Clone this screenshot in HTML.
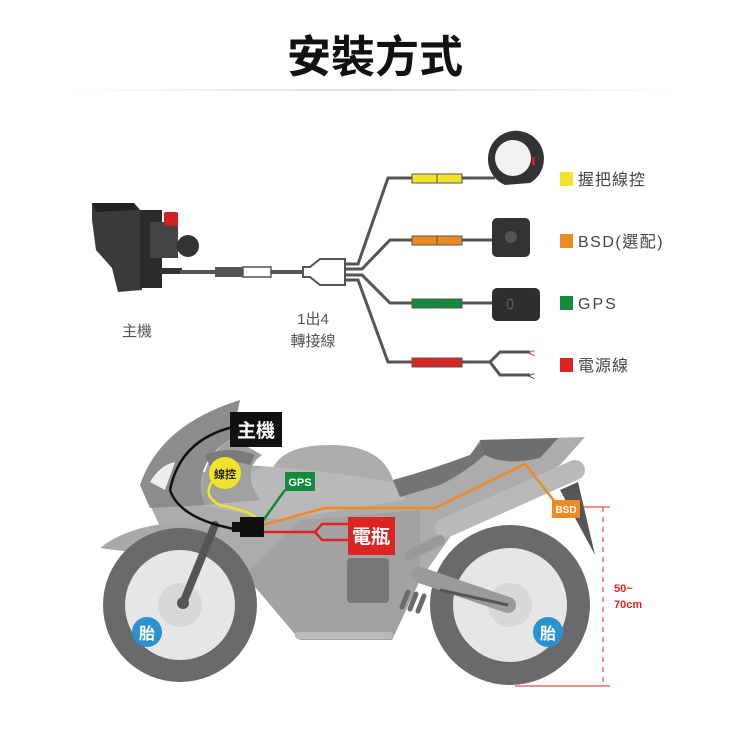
<!DOCTYPE html>
<html><head><meta charset="utf-8"><style>
html,body{margin:0;padding:0;background:#fff;}
svg{display:block;font-family:"Liberation Sans","Noto Sans CJK TC",sans-serif;}
</style></head><body>
<svg width="750" height="750" viewBox="0 0 750 750" xmlns="http://www.w3.org/2000/svg">
<defs>
<linearGradient id="hl" x1="0" x2="1"><stop offset="0" stop-color="#fff"/><stop offset=".5" stop-color="#ddd"/><stop offset="1" stop-color="#fff"/></linearGradient>
</defs>
<text x="375" y="72" font-size="44" font-weight="bold" text-anchor="middle" fill="#111" font-family="'Noto Sans CJK TC',sans-serif">安裝方式</text>
<rect x="70" y="89" width="610" height="2" fill="url(#hl)"/>

<!-- main unit -->
<path d="M92 203 L134 203 L142 212 L142 290 L118 292 L112 268 L96 250 L92 220 Z" fill="#3a3a3a"/>
<path d="M92 203 L134 203 L138 210 L96 212 Z" fill="#222"/>
<rect x="140" y="210" width="22" height="78" fill="#2b2b2b"/>
<rect x="150" y="222" width="28" height="36" fill="#444"/>
<circle cx="188" cy="246" r="11" fill="#333"/>
<rect x="164" y="212" width="14" height="14" fill="#c22" rx="2"/>
<rect x="160" y="268" width="22" height="6" fill="#333"/>
<line x1="180" y1="272" x2="305" y2="272" stroke="#555" stroke-width="4"/>
<rect x="215" y="267" width="28" height="10" fill="#555"/>
<rect x="243" y="267" width="28" height="10" fill="#fff" stroke="#555" stroke-width="1.5"/>
<path d="M303 267 L310 267 L320 259 L345 259 L345 285 L320 285 L310 277 L303 277 Z" fill="#fff" stroke="#555" stroke-width="2"/>
<text x="137" y="336" font-size="15" fill="#555" text-anchor="middle">主機</text>
<text x="313" y="324" font-size="15" fill="#555" text-anchor="middle">1出4</text>
<text x="313" y="346" font-size="15" fill="#555" text-anchor="middle">轉接線</text>

<!-- branches -->
<g stroke="#555" stroke-width="3" fill="none">
<path d="M345 264 L358 264 L388 178 L495 178"/>
<path d="M345 269 L362 269 L390 240 L495 240"/>
<path d="M345 275 L362 275 L390 303 L495 303"/>
<path d="M345 280 L358 280 L388 362 L490 362 L500 352 L530 352"/>
<path d="M490 362 L500 375 L530 375"/>
</g>
<g stroke="#555" stroke-width="1">
<rect x="412" y="174" width="25" height="9" fill="#f2e22a"/><rect x="437" y="174" width="25" height="9" fill="#f2e22a"/>
<rect x="412" y="236" width="25" height="9" fill="#ef8a23"/><rect x="437" y="236" width="25" height="9" fill="#ef8a23"/>
<rect x="412" y="299" width="25" height="9" fill="#138a3c"/><rect x="437" y="299" width="25" height="9" fill="#138a3c"/>
<rect x="412" y="358" width="25" height="9" fill="#dd2424"/><rect x="437" y="358" width="25" height="9" fill="#dd2424"/>
</g>
<text x="528" y="357" font-size="12" fill="#d22">&lt;</text>
<text x="528" y="380" font-size="12" fill="#333">&lt;</text>
<!-- devices -->
<path d="M488 160 A28 28 0 1 1 530 183 L505 185 A28 28 0 0 1 488 160 Z" fill="#333"/>
<circle cx="513" cy="158" r="18" fill="#f2f2f2"/>
<rect x="532" y="157" width="3" height="8" fill="#c22"/>
<rect x="492" y="218" width="38" height="39" rx="5" fill="#333"/>
<circle cx="511" cy="237" r="6" fill="#555"/>
<rect x="492" y="288" width="48" height="33" rx="5" fill="#2e2e2e"/>
<ellipse cx="510" cy="304" rx="3" ry="5" fill="none" stroke="#666"/>
<!-- legend -->
<rect x="560" y="172" width="13" height="14" fill="#f2e22a"/>
<text x="578" y="185" font-size="16" fill="#444" letter-spacing="1">握把線控</text>
<rect x="560" y="234" width="13" height="14" fill="#ef8a23"/>
<text x="578" y="247" font-size="16" fill="#444" letter-spacing="1.5">BSD(選配)</text>
<rect x="560" y="296" width="13" height="14" fill="#138a3c"/>
<text x="578" y="309" font-size="16" fill="#444" letter-spacing="2">GPS</text>
<rect x="560" y="358" width="13" height="14" fill="#dd2424"/>
<text x="578" y="371" font-size="16" fill="#444" letter-spacing="1">電源線</text>

<!-- motorcycle -->
<!-- main body -->
<path d="M150 505 Q190 462 262 466 L272 470 Q282 445 330 445 Q382 445 393 480 Q430 470 470 455 L480 440 L585 437 L560 465 L455 530 L420 580 L392 640 L300 640 L245 575 L170 548 Z" fill="#acacac"/>
<path d="M262 466 Q320 470 392 482 L405 500 L280 520 L200 505 Z" fill="#b9b9b9"/>
<path d="M393 480 Q430 470 470 455 L482 440 L492 448 Q470 470 440 485 L400 497 Z" fill="#747474"/>
<path d="M480 440 L558 438 L540 458 Q505 466 485 455 Z" fill="#6e6e6e"/>
<path d="M245 575 L300 520 L420 510 L420 580 L392 640 L300 640 Z" fill="#a2a2a2"/>
<line x1="445" y1="528" x2="575" y2="470" stroke="#b9b9b9" stroke-width="20" stroke-linecap="round"/>
<line x1="410" y1="555" x2="440" y2="540" stroke="#999" stroke-width="10" stroke-linecap="round"/>
<path d="M560 490 L578 482 L595 555 Z" fill="#555"/>
<!-- fairing -->
<path d="M240 400 Q160 425 140 485 L150 508 L205 505 Q190 465 232 438 Z" fill="#8c8c8c"/>
<path d="M232 438 Q195 462 205 505 L260 500 Q240 470 262 455 Z" fill="#a0a0a0"/>
<path d="M150 482 Q160 465 175 462 L165 490 Z" fill="#eee"/>
<path d="M205 455 Q230 445 255 455 L250 465 Q230 458 210 466 Z" fill="#7a7a7a"/>
<!-- front fender -->
<path d="M100 548 Q135 520 205 522 L222 545 L130 552 Z" fill="#a9a9a9"/>
<rect x="347" y="558" width="42" height="45" rx="4" fill="#777"/>
<g stroke="#6a6a6a" stroke-width="5" stroke-linecap="round">
<line x1="402" y1="607" x2="408" y2="592"/><line x1="410" y1="609" x2="416" y2="594"/><line x1="418" y1="611" x2="424" y2="596"/>
</g>
<rect x="295" y="632" width="98" height="7" rx="3" fill="#bbb"/>
<!-- wheels -->
<circle cx="180" cy="605" r="77" fill="#6a6a6a"/>
<circle cx="180" cy="605" r="55" fill="#e6e6e6"/>
<circle cx="180" cy="605" r="22" fill="#d8d8d8"/>
<circle cx="510" cy="605" r="80" fill="#6a6a6a"/>
<circle cx="510" cy="605" r="57" fill="#e6e6e6"/>
<circle cx="510" cy="605" r="22" fill="#d8d8d8"/>
<line x1="183" y1="603" x2="215" y2="525" stroke="#555" stroke-width="8" stroke-linecap="round"/>
<circle cx="183" cy="603" r="6" fill="#555"/>
<line x1="420" y1="575" x2="508" y2="605" stroke="#9a9a9a" stroke-width="16" stroke-linecap="round"/>
<line x1="440" y1="590" x2="508" y2="605" stroke="#555" stroke-width="3"/>
<!-- wires -->
<path d="M233 427 Q180 440 170 490 Q180 520 240 530" stroke="#111" stroke-width="2.5" fill="none"/>
<path d="M215 478 Q200 495 220 505 Q255 512 265 525" stroke="#f2e22a" stroke-width="2.5" fill="none"/>
<path d="M262 522 L285 490" stroke="#138a3c" stroke-width="2.5" fill="none"/>
<path d="M262 525 L325 508 L435 508 L525 464 L555 502" stroke="#ef8a23" stroke-width="2.5" fill="none"/>
<path d="M262 532 L315 532 L322 524 L348 524 M315 532 L322 540 L348 540" stroke="#dd2424" stroke-width="2.5" fill="none"/>
<rect x="240" y="517" width="24" height="20" fill="#111"/>
<rect x="232" y="522" width="10" height="10" fill="#111"/>
<!-- labels -->
<rect x="230" y="412" width="52" height="35" fill="#111"/>
<text x="256" y="437" font-size="19" font-weight="bold" fill="#fff" text-anchor="middle">主機</text>
<circle cx="225" cy="473" r="16" fill="#f2e22a"/>
<text x="225" y="478" font-size="11" font-weight="bold" fill="#222" text-anchor="middle">線控</text>
<rect x="285" y="472" width="30" height="19" fill="#138a3c"/>
<text x="300" y="486" font-size="11" font-weight="bold" fill="#fff" text-anchor="middle">GPS</text>
<rect x="348" y="517" width="47" height="38" fill="#dd2424"/>
<text x="371" y="543" font-size="19" font-weight="bold" fill="#fff" text-anchor="middle">電瓶</text>
<rect x="552" y="500" width="28" height="18" fill="#ef8a23"/>
<text x="566" y="513" font-size="10" font-weight="bold" fill="#fff" text-anchor="middle">BSD</text>
<circle cx="147" cy="632" r="15" fill="#2a92d0"/>
<text x="147" y="639" font-size="16" font-weight="bold" fill="#fff" text-anchor="middle">胎</text>
<circle cx="548" cy="632" r="15" fill="#2a92d0"/>
<text x="548" y="639" font-size="16" font-weight="bold" fill="#fff" text-anchor="middle">胎</text>
<!-- dimension -->
<line x1="583" y1="507" x2="610" y2="507" stroke="#d22" stroke-width="1"/>
<line x1="515" y1="686" x2="610" y2="686" stroke="#d22" stroke-width="1"/>
<line x1="603" y1="507" x2="603" y2="686" stroke="#d22" stroke-width="1" stroke-dasharray="5 5"/>
<text x="614" y="592" font-size="11" font-weight="bold" fill="#d22">50~</text>
<text x="614" y="608" font-size="11" font-weight="bold" fill="#d22">70cm</text>
</svg>
</body></html>
